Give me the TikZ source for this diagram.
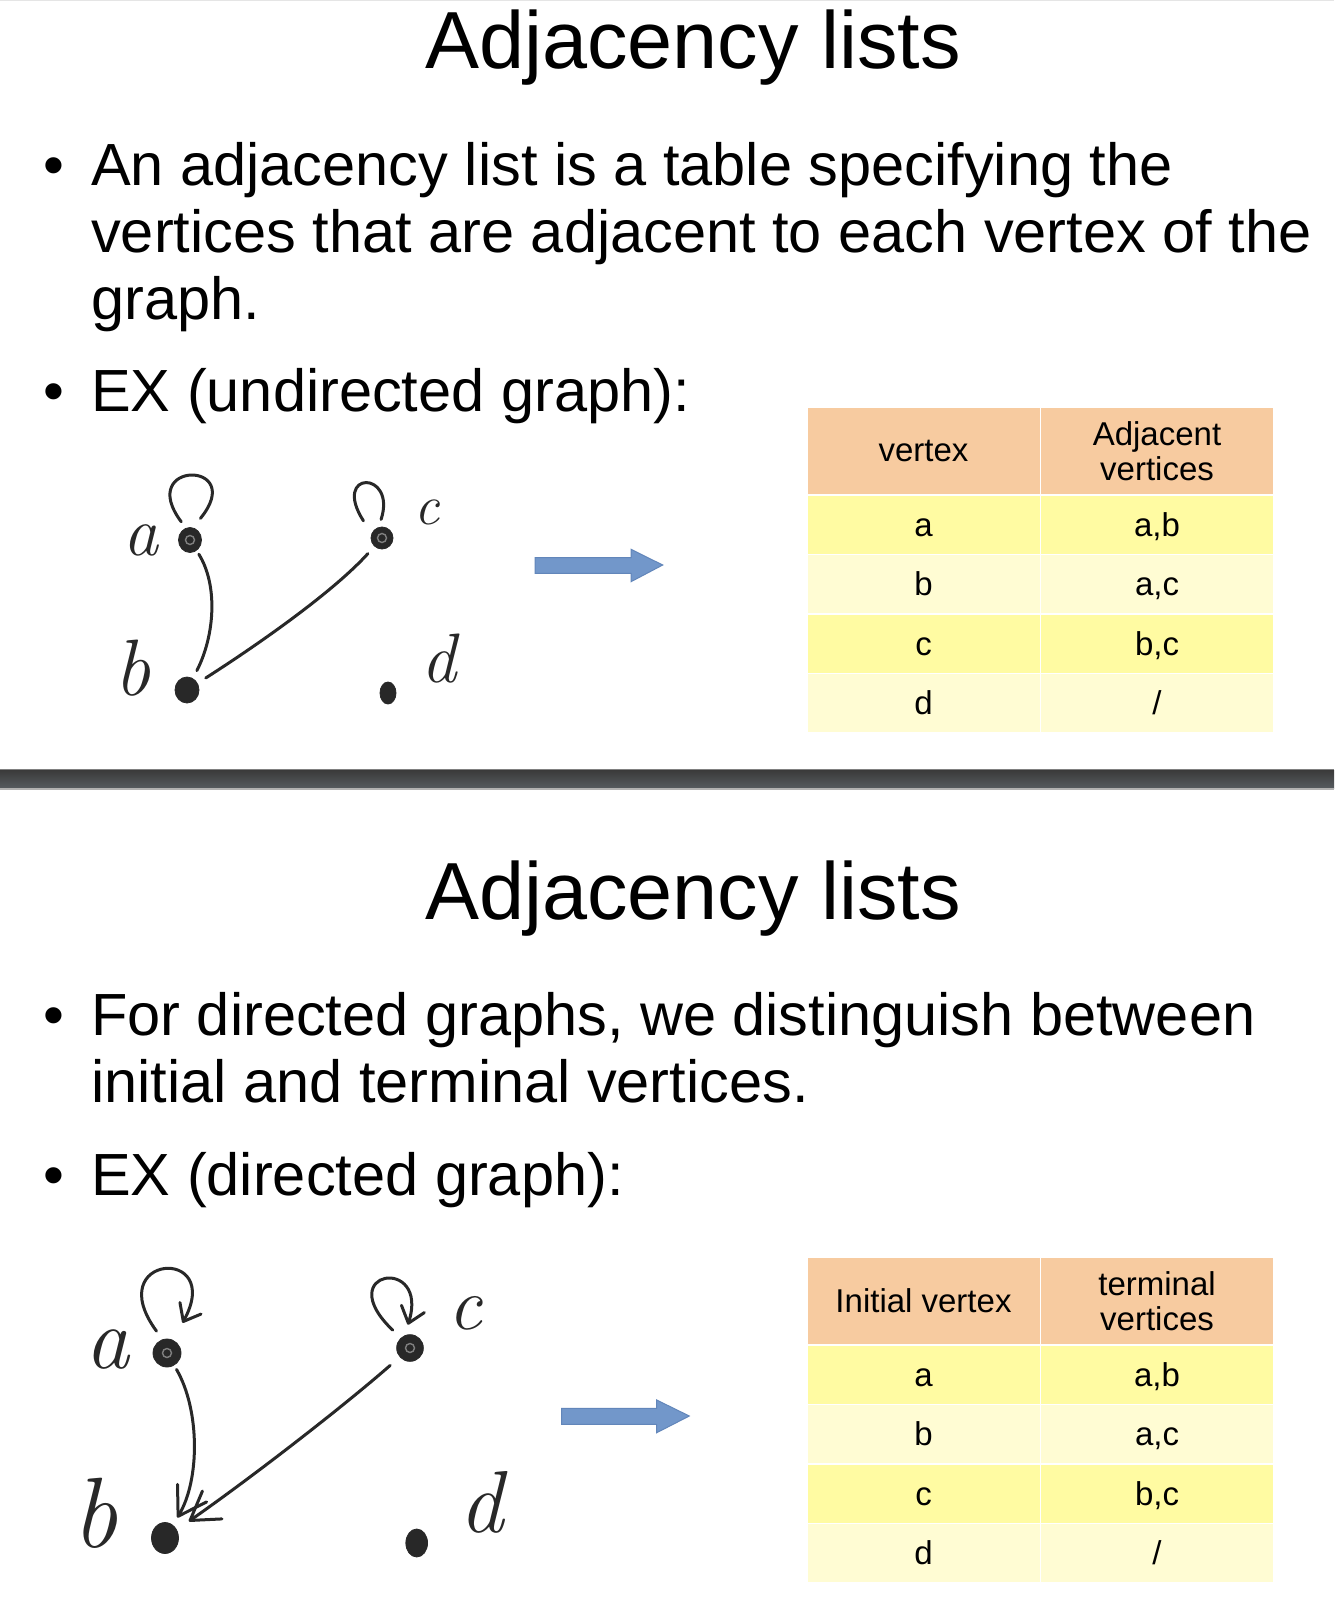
\documentclass[tikz,border=0pt]{standalone}
\usepackage{fontspec}
\newfontfamily\slidefont{Liberation Sans}
\usetikzlibrary{arrows.meta,shapes.geometric}
\definecolor{ink}{RGB}{40,40,40}
\definecolor{hdr}{RGB}{247,203,160}
\definecolor{rowA}{RGB}{255,251,162}
\definecolor{rowB}{RGB}{255,252,211}
\definecolor{arrowfill}{RGB}{114,151,202}
\definecolor{arrowedge}{RGB}{98,134,186}
\definecolor{barTop}{RGB}{58,58,58}
\definecolor{barBot}{RGB}{86,91,95}
\tikzset{
  slidetitle/.style={font=\slidefont\fontsize{81}{97}\selectfont, anchor=base, inner sep=0},
  body/.style={font=\slidefont\fontsize{59.5}{66.5}\selectfont, anchor=base west, inner sep=0},
  bul/.style={font=\slidefont\fontsize{59.5}{66.5}\selectfont, anchor=base, inner sep=0},
  cell/.style={draw=white, line width=1.5pt, inner sep=0, anchor=north west, minimum width=233.5pt, font=\slidefont\fontsize{33}{35}\selectfont, text=black},
  rowcell/.style={cell, minimum height=59.5pt, text height=23.6pt, text depth=0pt},
  headcell/.style={cell, fill=hdr, minimum height=88pt, align=center},
  vtx/.style={ellipse, fill=ink, draw=ink, line width=0.8pt, inner sep=0, outer sep=3pt},
  ring/.style={path picture={\draw[black!50, line width=1.4pt] (path picture bounding box.center) circle (4.5pt);}},
  hand/.style={font=\itshape\fontsize{#1}{#1}\selectfont, text=ink, inner sep=0},
  stroke/.style={draw=ink, line width=3pt, line cap=round, line join=round},
  bigtip/.style={-{Straight Barb[length=27pt, width=34pt, round]}},
  smalltip/.style={-{Straight Barb[length=15pt, width=24pt, round]}},
  bluearrow/.style={fill=arrowfill, draw=arrowedge, line width=1pt},
}
\begin{document}
\begin{tikzpicture}[x=1pt, y=-1pt]
\useasboundingbox (0,0) rectangle (1334,1613);
\fill[white] (0,0) rectangle (1334,1613);
\fill[black!10] (0,0) rectangle (1334,1.5);
% separator bar
\shade[top color=barTop, bottom color=barBot] (0,770) rectangle (1334,788);
\fill[black!50] (0,769) rectangle (1334,770.2);
\fill[black!30] (0,788) rectangle (1334,789.5);

% ================= Section 1 =================
\node[slidetitle] (t1) at (693,69) {Adjacency lists};
\node[bul] (b11) at (54,186) {•};
\node[body] (l11) at (91,186) {An adjacency list is a table specifying the};
\node[body] (l12) at (91,252.5) {vertices that are adjacent to each vertex of the};
\node[body] (l13) at (91,319) {graph.};
\node[bul] (b12) at (54,411) {•};
\node[body] (l14) at (91,411) {EX (undirected graph):};

% table 1
\node[headcell] (h1a) at (806,406) {vertex};
\node[headcell] (h1b) at (1039.5,406) {Adjacent\\vertices};
\node[rowcell, fill=rowA] (r1a1) at (806,494) {a};
\node[rowcell, fill=rowA] (r1a2) at (1039.5,494) {a,b};
\node[rowcell, fill=rowB] (r1b1) at (806,553.5) {b};
\node[rowcell, fill=rowB] (r1b2) at (1039.5,553.5) {a,c};
\node[rowcell, fill=rowA] (r1c1) at (806,613) {c};
\node[rowcell, fill=rowA] (r1c2) at (1039.5,613) {b,c};
\node[rowcell, fill=rowB] (r1d1) at (806,672.5) {d};
\node[rowcell, fill=rowB] (r1d2) at (1039.5,672.5) {/};

% blue arrow 1
\path[bluearrow] (535,557.7) -- (631,557.7) -- (631,549.3) -- (662.7,565) -- (631,581.7) -- (631,573.3) -- (535,573.3) -- cycle;

% graph 1
\node[vtx, ring, minimum width=23pt, minimum height=25pt] (va) at (190,540) {};
\node[vtx, ring, minimum width=22pt, minimum height=22pt] (vc) at (382,538) {};
\node[vtx, minimum width=24pt, minimum height=26pt] (vb) at (187,690) {};
\node[vtx, minimum width=16pt, minimum height=22pt] (vd) at (388,693) {};
\node[hand=70] (la) at (141,540) {a};
\node[hand=56] (lc) at (427,512) {c};
\node[hand=80] (lb) at (132,668) {b};
\node[hand=70] (ld) at (439,659) {d};
\draw[stroke, shorten <=1.5pt, shorten >=6pt] (va) .. controls (218,585) and (215,635) .. (vb);
\draw[stroke, shorten <=7pt, shorten >=7pt] (vc) .. controls (335,590) and (265,640) .. (vb);
\draw[stroke, shorten <=5pt, shorten >=9pt] (va.112) .. controls (135,460) and (248,460) .. (va.72);
\draw[stroke, shorten <=12pt, shorten >=5pt] (vc.150) .. controls (331,470) and (397,470) .. (vc.100);

% ================= Section 2 =================
\node[slidetitle] (t2) at (693,919) {Adjacency lists};
\node[bul] (b21) at (54,1035.5) {•};
\node[body] (l21) at (91,1035.5) {For directed graphs, we distinguish between};
\node[body] (l22) at (91,1102) {initial and terminal vertices.};
\node[bul] (b22) at (54,1195) {•};
\node[body] (l23) at (91,1195) {EX (directed graph):};

% table 2
\node[headcell] (h2a) at (806,1256) {Initial vertex};
\node[headcell] (h2b) at (1039.5,1256) {terminal\\vertices};
\node[rowcell, fill=rowA] (r2a1) at (806,1344) {a};
\node[rowcell, fill=rowA] (r2a2) at (1039.5,1344) {a,b};
\node[rowcell, fill=rowB] (r2b1) at (806,1403.5) {b};
\node[rowcell, fill=rowB] (r2b2) at (1039.5,1403.5) {a,c};
\node[rowcell, fill=rowA] (r2c1) at (806,1463) {c};
\node[rowcell, fill=rowA] (r2c2) at (1039.5,1463) {b,c};
\node[rowcell, fill=rowB] (r2d1) at (806,1522.5) {d};
\node[rowcell, fill=rowB] (r2d2) at (1039.5,1522.5) {/};

% blue arrow 2
\path[bluearrow] (561.7,1408.3) -- (656.7,1408.3) -- (656.7,1400) -- (689.3,1416) -- (656.7,1432.7) -- (656.7,1424.3) -- (561.7,1424.3) -- cycle;

% graph 2
\node[vtx, ring, minimum width=28pt, minimum height=28pt] (wa) at (167,1353) {};
\node[vtx, ring, minimum width=26.7pt, minimum height=26.7pt] (wc) at (410,1348) {};
\node[vtx, minimum width=27pt, minimum height=31pt] (wb) at (165,1538) {};
\node[vtx, minimum width=21.7pt, minimum height=28pt] (wd) at (416.7,1543) {};
\node[hand=88] (ma) at (107,1350) {a};
\node[hand=75] (mc) at (465,1313) {c};
\node[hand=100] (mb) at (95,1513) {b};
\node[hand=88] (md) at (481,1502) {d};
\draw[stroke, bigtip, shorten <=2pt, shorten >=6pt] (wa) .. controls (200,1410) and (200,1480) .. (wb);
\draw[stroke, bigtip, shorten <=10pt, shorten >=12pt] (wc) .. controls (345,1405) and (255,1475) .. (wb);
\draw[stroke, smalltip, shorten <=7.5pt, shorten >=17pt] (wa.111) .. controls (100,1254) and (225,1245) .. (wa.64);
\draw[stroke, smalltip, shorten <=8.5pt, shorten >=8pt] (wc.133) .. controls (330,1270) and (430,1255) .. (wc.106);
\end{tikzpicture}
\end{document}
